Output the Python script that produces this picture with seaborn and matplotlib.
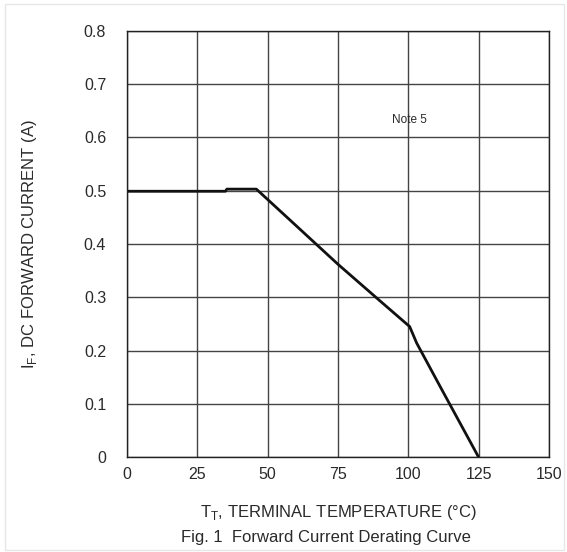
import numpy as np
import pandas as pd
import seaborn as sns
import matplotlib.pyplot as plt
from matplotlib.patches import Rectangle

# derating curve
temp_c = [0, 35, 35.5, 46, 60, 75, 90, 100.5, 103, 112, 125]
current_a = [0.499, 0.499, 0.503, 0.503, 0.435, 0.362, 0.293, 0.245, 0.214, 0.126, 0.0]
x_ticks = [0, 25, 50, 75, 100, 125, 150]
y_ticks = [0, 0.1, 0.2, 0.3, 0.4, 0.5, 0.6, 0.7, 0.8]
y_ticklabels = ['0', '0.1', '0.2', '0.3', '0.4', '0.5', '0.6', '0.7', '0.8']

df = pd.DataFrame({'temp': temp_c, 'current': current_a})

sns.set_style('white')
plt.rcParams['font.family'] = ['Liberation Sans', 'DejaVu Sans']

fig = plt.figure(figsize=(5.67, 5.52), dpi=100)
ax = fig.add_axes([0.224, 0.172, 0.744, 0.772])

sns.lineplot(data=df, x='temp', y='current', color='#111111', linewidth=2, ax=ax,
             sort=False, estimator=None)

ax.set_xlim(0, 150)
ax.set_ylim(0, 0.8)
ax.set_xticks(x_ticks)
ax.set_yticks(y_ticks)
ax.set_yticklabels(y_ticklabels)
ax.tick_params(axis='both', length=0, labelsize=11.5, colors='#2a2a2a')
ax.tick_params(axis='y', pad=15)
ax.tick_params(axis='x', pad=7)
ax.grid(True, color='#444444', linewidth=1)
for s in ax.spines.values():
    s.set_color('#222222')
    s.set_linewidth(1)

ax.set_xlabel('T$_\\mathregular{T}$, TERMINAL TEMPERATURE (°C)', fontsize=12, labelpad=15, color='#2a2a2a')
ax.set_ylabel('I$_\\mathregular{F}$, DC FORWARD CURRENT (A)', fontsize=12, labelpad=32, color='#2a2a2a')
ax.text(100.5, 0.633, 'Note 5', fontsize=8.5, ha='center', va='center', color='#2a2a2a')

fig.text(0.575, 0.027, 'Fig. 1  Forward Current Derating Curve', fontsize=12,
         ha='center', va='center', color='#2a2a2a')

# faint frame around the whole image
fig.patches.append(Rectangle((0.009, 0.003), 0.985, 0.99, transform=fig.transFigure,
                             fill=False, edgecolor='#e6e6e6', linewidth=1))

fig.savefig('out.png', dpi=100)
